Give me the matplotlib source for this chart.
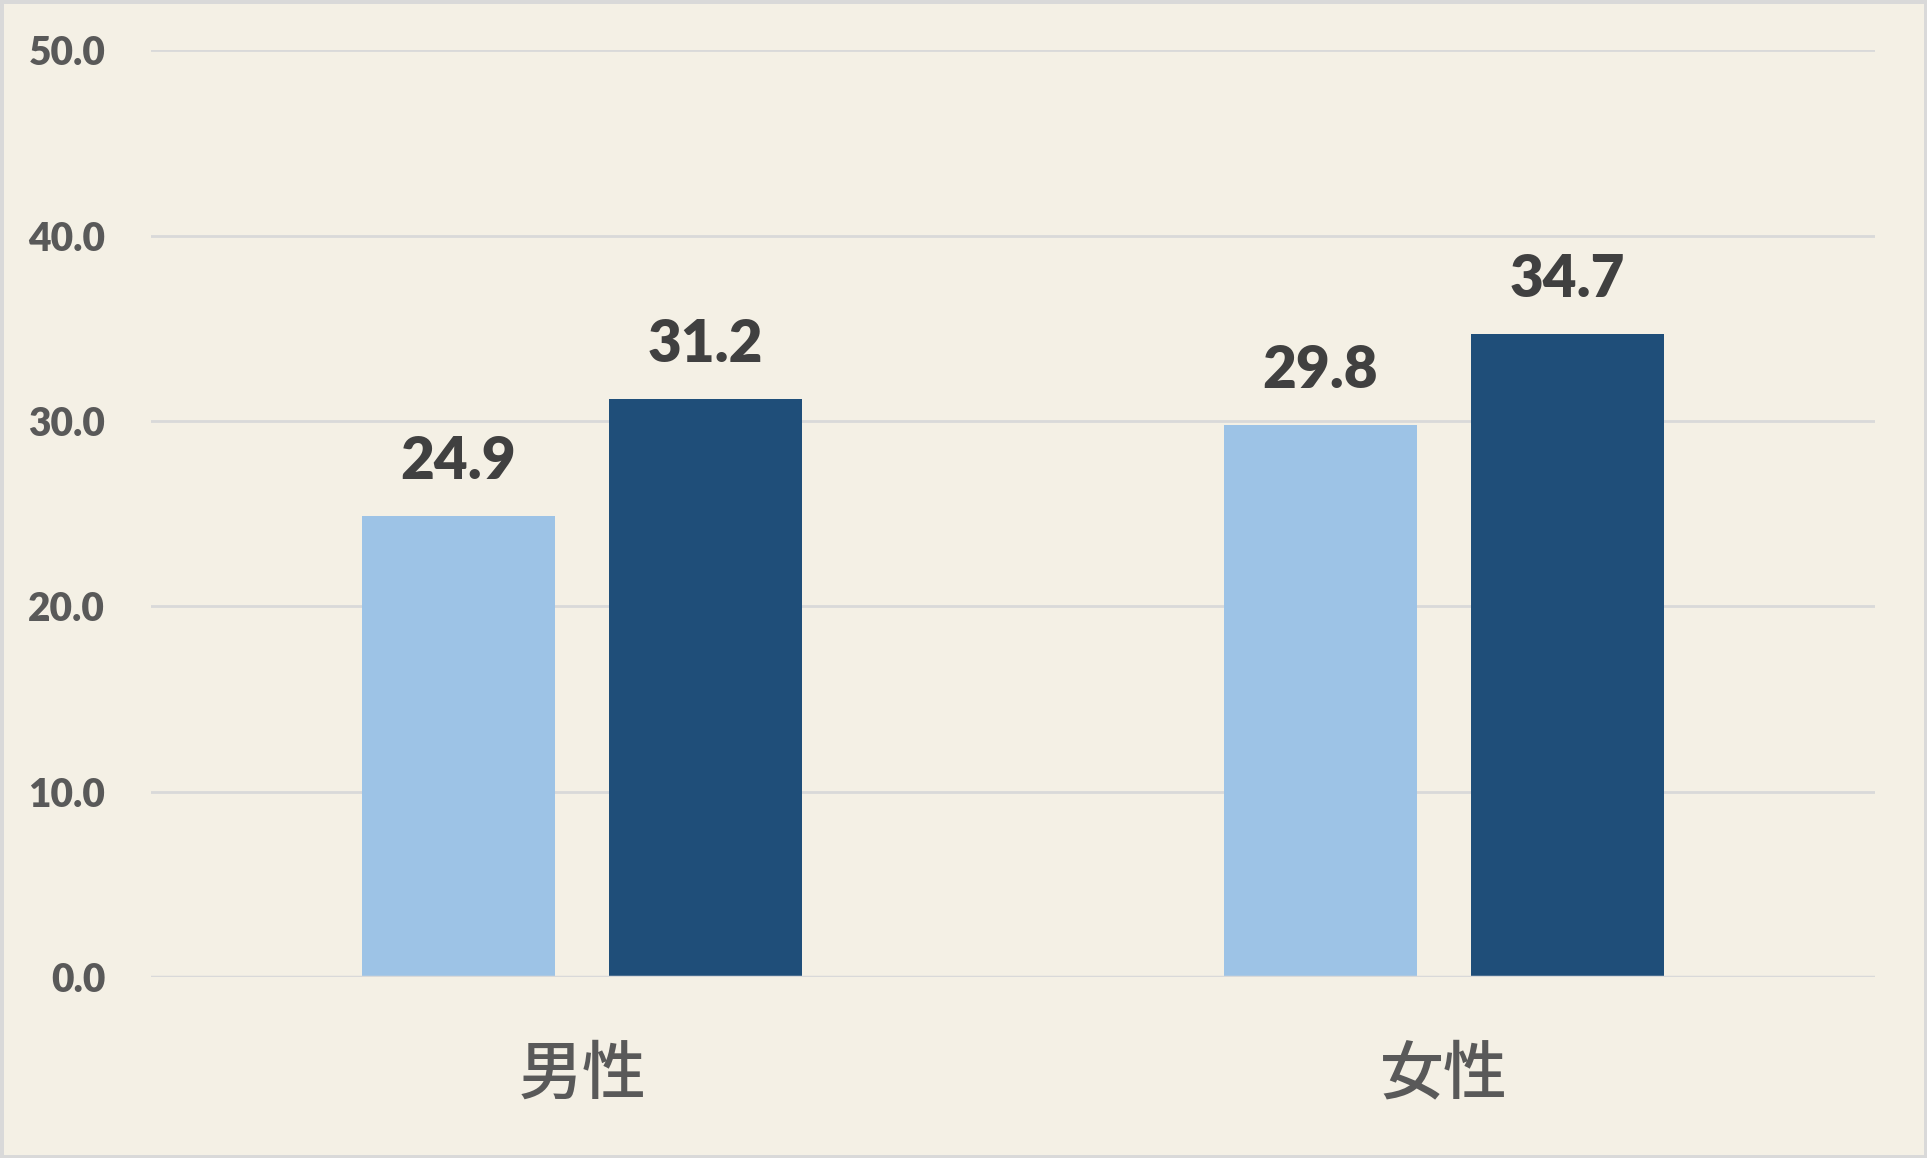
import matplotlib
matplotlib.use("Agg")
import matplotlib.pyplot as plt
from matplotlib.patches import Rectangle
import numpy as np

categories = ["男性", "女性"]
series_a = [24.9, 29.8]   # light blue
series_b = [31.2, 34.7]   # dark blue
yticks = [0, 10, 20, 30, 40, 50]

bg = "#F4F0E5"
light = "#9DC3E6"
dark = "#1F4E79"
grid_c = "#D9D9D9"
tick_c = "#595959"
lab_c = "#404040"

fig = plt.figure(figsize=(19.27, 11.58), dpi=100, facecolor=bg)
ax = fig.add_axes([0.0784, 0.1563, 0.973 - 0.0784, 0.9565 - 0.1563])
ax.set_facecolor(bg)

x = np.arange(len(categories))
w = 0.224
off = 0.1434
b1 = ax.bar(x - off, series_a, w, color=light, zorder=3)
b2 = ax.bar(x + off, series_b, w, color=dark, zorder=3)

for bars, vals in ((b1, series_a), (b2, series_b)):
    for r, v in zip(bars, vals):
        ax.annotate(f"{v:.1f}", (r.get_x() + r.get_width() / 2, v),
                    xytext=(0, 20), textcoords="offset points",
                    ha="center", va="bottom", fontsize=42, fontweight="heavy",
                    color=lab_c, family=["Lato", "DejaVu Sans"])

ax.set_xlim(-0.5, 1.5)
ax.set_ylim(0, 50)
ax.set_yticks(yticks)
ax.set_yticklabels([f"{t:.1f}" for t in yticks], fontsize=28, fontweight="heavy",
                   color=tick_c, family=["Lato", "DejaVu Sans"])
ax.set_xticks(x)
ax.set_xticklabels(categories, fontsize=46, color=tick_c,
                   family=["Noto Sans CJK JP", "DejaVu Sans"], fontweight="medium")
ax.tick_params(axis="y", length=0, pad=33)
ax.tick_params(axis="x", length=0, pad=47)
for s in ax.spines.values():
    s.set_visible(False)
ax.yaxis.grid(True, color=grid_c, linewidth=2, zorder=0)
ax.set_axisbelow(True)
ax.axhline(0, color=grid_c, linewidth=2.5, zorder=4)

fig.patches.append(Rectangle((0, 0), 1, 1, transform=fig.transFigure,
                             fill=False, edgecolor=grid_c, linewidth=5, zorder=10))

fig.savefig("out.png", dpi=100, facecolor=bg)
